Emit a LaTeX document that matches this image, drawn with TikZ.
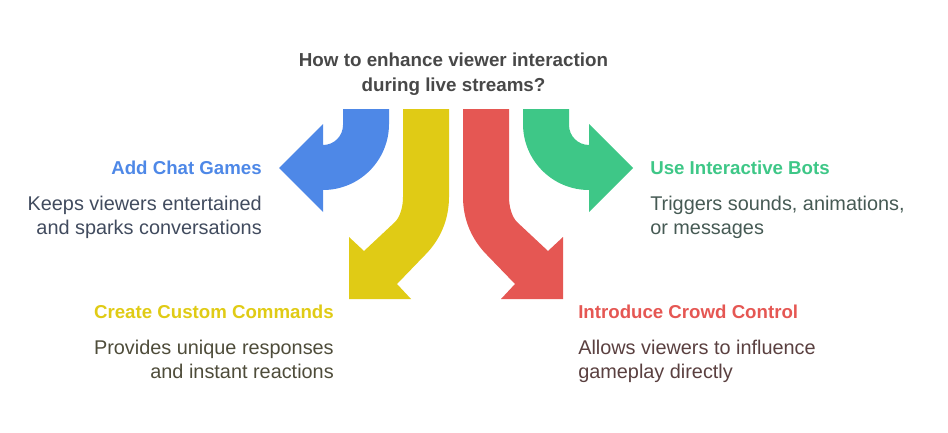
\documentclass[tikz,border=0pt]{standalone}
\usepackage{fontspec}
\setmainfont{Liberation Sans}
\usetikzlibrary{positioning}
\definecolor{chatblue}{HTML}{4E88E7}
\definecolor{cmdyellow}{HTML}{E0CB15}
\definecolor{crowdred}{HTML}{E55753}
\definecolor{botgreen}{HTML}{3EC787}
\definecolor{titlegray}{HTML}{484848}
\definecolor{chattext}{HTML}{414B5E}
\definecolor{cmdtext}{HTML}{4E4C3A}
\definecolor{crowdtext}{HTML}{5A4040}
\definecolor{bottext}{HTML}{465A54}
\begin{document}
\begin{tikzpicture}[x=0.75pt,y=-0.75pt,
	head/.style={inner sep=0pt,font=\fontsize{14}{18}\selectfont\bfseries},
	desc/.style={inner sep=0pt,font=\fontsize{14.9}{18}\selectfont},
]
\useasboundingbox (0,0) rectangle (948,432);

%===================================================================
\fill[chatblue] (343,109)--(343,125) arc[start angle=0,end angle=90,radius=20]--(323,124)--(279,168)--(323,212)--(323,190) arc[start angle=90,end angle=0,radius=66]--(389,109)--cycle;
\fill[cmdyellow] (403,109)--(403,197) .. controls (403,207) and (400,217) .. (395,222)--(364,251)--(349,237)--(349,299)--(411,299)--(397,284)--(425,255) .. controls (440,240) and (449,220) .. (449,197)--(449,109)--cycle;

%===================================================================
\fill[crowdred] (509,109)--(509,197) .. controls (509,207) and (512,217) .. (517,222)--(548,251)--(563,237)--(563,299)--(501,299)--(515,284)--(487,255) .. controls (472,240) and (463,220) .. (463,197)--(463,109)--cycle;
\fill[botgreen] (569,109)--(569,125) arc[start angle=180,end angle=90,radius=20]--(589,124)--(633,168)--(589,212)--(589,190) arc[start angle=90,end angle=180,radius=66]--(523,109)--cycle;

\node[align=center,text=titlegray,inner sep=0pt,font=\fontsize{14.1}{18.75}\selectfont\bfseries] (question) at (453.5,74.5) {How to enhance viewer interaction\\during live streams?};

\node[anchor=east,text=chatblue,head] (chat) at (262,168) {Add Chat Games};
\node[align=right,text=chattext,desc,below=16pt of chat.base east,anchor=north east] (chatd) {Keeps viewers entertained\\and sparks conversations};

\node[anchor=east,text=cmdyellow,head] (cmd) at (334,312) {Create Custom Commands};
\node[align=right,text=cmdtext,desc,below=16pt of cmd.base east,anchor=north east] (cmdd) {Provides unique responses\\and instant reactions};

\node[anchor=west,text=botgreen,head] (bot) at (650,168) {Use Interactive Bots};
\node[align=left,text=bottext,desc,below=16pt of bot.base west,anchor=north west] (botd) {Triggers sounds, animations,\\or messages};

\node[anchor=west,text=crowdred,head] (crowd) at (578,312) {Introduce Crowd Control};
\node[align=left,text=crowdtext,desc,below=16pt of crowd.base west,anchor=north west] (crowdd) {Allows viewers to influence\\gameplay directly};
\end{tikzpicture}
\end{document}
